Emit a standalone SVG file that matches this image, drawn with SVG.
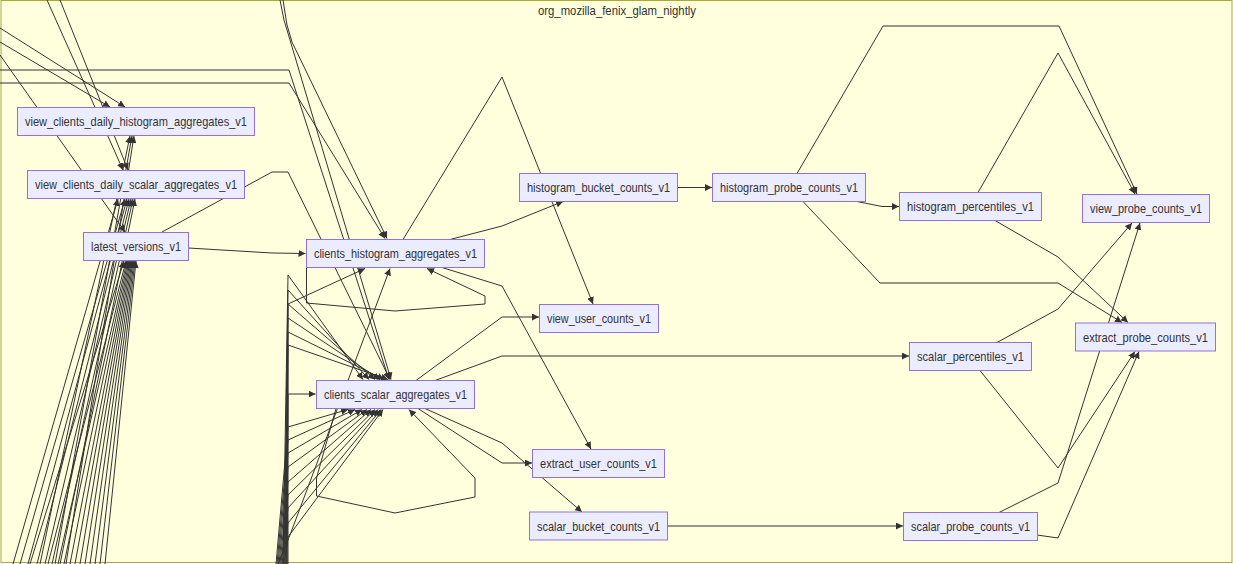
<svg xmlns="http://www.w3.org/2000/svg" width="1233" height="564" viewBox="0 0 1233 564">
<style>
.cl{fill:#ffffde;stroke:#aaaa33;stroke-width:1}
.n rect{fill:#ececff;stroke:#9370db;stroke-width:1}
.n text,.t{font-family:"Liberation Sans",Arial,sans-serif;font-size:13px;fill:#333;text-anchor:middle}
#edges path{fill:none;stroke:#333;stroke-width:1}
#edges path.a{marker-end:url(#arr)}
</style>
<defs>
<marker id="arr" viewBox="0 0 10 10" refX="10" refY="5" markerUnits="userSpaceOnUse" markerWidth="7" markerHeight="7" orient="auto">
<path d="M0,0 L10,5 L0,10 z" fill="#333" stroke="none"/>
</marker>
</defs>
<g id="cluster">
<rect class="cl" x="1" y="0.5" width="1231" height="562"/>
<text class="t" x="617" y="14.5" textLength="158" lengthAdjust="spacingAndGlyphs">org_mozilla_fenix_glam_nightly</text>
</g>
<g id="edges">
<path class="a" d="M0,28 L125,107"/>
<path class="a" d="M0,42 L110,107"/>
<path class="a" d="M0,55 L125,232"/>
<path class="a" d="M47,0 L123,170"/>
<path class="a" d="M60,0 L128,170"/>
<path class="a" d="M13,564 L118,199"/>
<path class="a" d="M20,564 L125,199"/>
<path class="a" d="M28,564 L127,199"/>
<path class="a" d="M37,564 L129,199"/>
<path class="a" d="M45,564 L131,199"/>
<path class="a" d="M52,564 L133,199"/>
<path class="a" d="M60,564 L135,199"/>
<path class="a" d="M40,564 L130,136"/>
<path class="a" d="M55,564 L132,136"/>
<path class="a" d="M66,564 L134,136"/>
<path class="a" d="M30,564 L124,261"/>
<path class="a" d="M48,564 L126,261"/>
<path class="a" d="M58,564 L127,261"/>
<path class="a" d="M64,564 L128,261"/>
<path class="a" d="M70,564 L129,261"/>
<path class="a" d="M75,564 L130,261"/>
<path class="a" d="M80,564 L131,261"/>
<path class="a" d="M85,564 L132,261"/>
<path class="a" d="M90,564 L133,261"/>
<path class="a" d="M95,564 L134,261"/>
<path class="a" d="M100,564 L135,261"/>
<path class="a" d="M105,564 L136,261"/>
<path class="a" d="M162,232 L272,172 L288,172 L390,379.5"/>
<path class="a" d="M188.5,248 L272,253 L305.5,253.5"/>
<path class="a" d="M0,70 L289,70 L389,379.5"/>
<path class="a" d="M0,83 L289,83 L385,238.5"/>
<path class="a" d="M280,0 L284,20 L290,40 L391,379.5"/>
<path class="a" d="M283,0 L287,25 L292,42 L387,238.5"/>
<path class="a" d="M283,564 L288,275 L363,379.5"/>
<path class="a" d="M284,564 L288,290 L369,379.5"/>
<path class="a" d="M285,564 L288,304 L375,379.5"/>
<path class="a" d="M286,564 L288,318 L380,379.5"/>
<path class="a" d="M287,564 L288,332 L384,379.5"/>
<path class="a" d="M288,564 L288,345 L388,379.5"/>
<path class="a" d="M286,564 L288,304 L365,268.5"/>
<path class="a" d="M287,564 L288,394 L315.5,394"/>
<path class="a" d="M276,564 L288,427 L348,409.5"/>
<path class="a" d="M277,564 L288,440 L355,409.5"/>
<path class="a" d="M278,564 L288,453 L362,409.5"/>
<path class="a" d="M279,564 L288,467 L367,409.5"/>
<path class="a" d="M280,564 L288,482 L371,409.5"/>
<path class="a" d="M281,564 L288,495 L375,409.5"/>
<path class="a" d="M282,564 L288,508 L378,409.5"/>
<path class="a" d="M283,564 L288,523 L381,409.5"/>
<path class="a" d="M284,564 L288,537 L383,409.5"/>
<path class="a" d="M278,564 L290,535 L390,268.5"/>
<path class="a" d="M306.5,267.5 L306.5,303 L395,311 L485,304 L485,296 L427,268.5"/>
<path class="a" d="M336,408.5 L316.5,478 L316.5,496 L395,513 L475,497 L475,478 L409,409.5"/>
<path class="a" d="M450,239.5 L502,226 L563,201.5"/>
<path class="a" d="M442,267.5 L502,286 L591,449"/>
<path class="a" d="M403,239.5 L502,77 L593,304"/>
<path class="a" d="M416,380.5 L502,317 L539,317"/>
<path class="a" d="M435,380.5 L502,356 L909,356"/>
<path class="a" d="M418,408.5 L502,463 L532,463"/>
<path class="a" d="M425,408.5 L502,443 L582,512"/>
<path class="a" d="M677.5,187.5 L712,187.5"/>
<path class="a" d="M857,201.5 L882,206.5 L899,206.5"/>
<path class="a" d="M797,173.5 L883,26 L1059,26 L1137,194"/>
<path class="a" d="M978,192.5 L1058,53 L1135,194"/>
<path class="a" d="M995,220.5 L1058,257 L1128,322.5"/>
<path class="a" d="M803,201.5 L880,283 L1058,283 L1122,322.5"/>
<path class="a" d="M997,342.5 L1058,309 L1132,223"/>
<path class="a" d="M980,370.5 L1058,468 L1135,351.5"/>
<path class="a" d="M999,512.5 L1058,483 L1140,223"/>
<path class="a" d="M1037,535 L1058,538 L1139,351.5"/>
<path class="a" d="M667.5,526 L903,526"/>
</g>
<g id="view_clients_daily_histogram_aggregates_v1" class="n"><rect x="17.5" y="107.5" width="237" height="28"/><text x="136" y="126" textLength="222" lengthAdjust="spacingAndGlyphs">view_clients_daily_histogram_aggregates_v1</text></g>
<g id="view_clients_daily_scalar_aggregates_v1" class="n"><rect x="27.5" y="170.5" width="217" height="28"/><text x="136" y="189" textLength="202" lengthAdjust="spacingAndGlyphs">view_clients_daily_scalar_aggregates_v1</text></g>
<g id="latest_versions_v1" class="n"><rect x="83.5" y="232.5" width="105" height="28"/><text x="136" y="251" textLength="90" lengthAdjust="spacingAndGlyphs">latest_versions_v1</text></g>
<g id="clients_histogram_aggregates_v1" class="n"><rect x="306.5" y="239.5" width="178" height="28"/><text x="395.5" y="258" textLength="163" lengthAdjust="spacingAndGlyphs">clients_histogram_aggregates_v1</text></g>
<g id="clients_scalar_aggregates_v1" class="n"><rect x="316.5" y="380.5" width="158" height="28"/><text x="395.5" y="399" textLength="143" lengthAdjust="spacingAndGlyphs">clients_scalar_aggregates_v1</text></g>
<g id="histogram_bucket_counts_v1" class="n"><rect x="519.5" y="173.5" width="158" height="28"/><text x="598.5" y="192" textLength="143" lengthAdjust="spacingAndGlyphs">histogram_bucket_counts_v1</text></g>
<g id="histogram_probe_counts_v1" class="n"><rect x="712.5" y="173.5" width="153" height="28"/><text x="789" y="192" textLength="138" lengthAdjust="spacingAndGlyphs">histogram_probe_counts_v1</text></g>
<g id="histogram_percentiles_v1" class="n"><rect x="899.5" y="192.5" width="142" height="28"/><text x="970.5" y="211" textLength="127" lengthAdjust="spacingAndGlyphs">histogram_percentiles_v1</text></g>
<g id="view_probe_counts_v1" class="n"><rect x="1082.5" y="194.5" width="127" height="28"/><text x="1146" y="213" textLength="112" lengthAdjust="spacingAndGlyphs">view_probe_counts_v1</text></g>
<g id="extract_probe_counts_v1" class="n"><rect x="1075.5" y="323" width="140" height="28"/><text x="1145.5" y="341.5" textLength="125" lengthAdjust="spacingAndGlyphs">extract_probe_counts_v1</text></g>
<g id="scalar_percentiles_v1" class="n"><rect x="909.5" y="342.5" width="122" height="28"/><text x="970.5" y="361" textLength="107" lengthAdjust="spacingAndGlyphs">scalar_percentiles_v1</text></g>
<g id="scalar_probe_counts_v1" class="n"><rect x="903.5" y="512.5" width="134" height="28"/><text x="970.5" y="531" textLength="119" lengthAdjust="spacingAndGlyphs">scalar_probe_counts_v1</text></g>
<g id="view_user_counts_v1" class="n"><rect x="539.5" y="304.5" width="119" height="28"/><text x="599" y="323" textLength="104" lengthAdjust="spacingAndGlyphs">view_user_counts_v1</text></g>
<g id="extract_user_counts_v1" class="n"><rect x="532.5" y="449.5" width="132" height="28"/><text x="598.5" y="468" textLength="117" lengthAdjust="spacingAndGlyphs">extract_user_counts_v1</text></g>
<g id="scalar_bucket_counts_v1" class="n"><rect x="529.5" y="512" width="138" height="28"/><text x="598.5" y="530.5" textLength="123" lengthAdjust="spacingAndGlyphs">scalar_bucket_counts_v1</text></g>
</svg>
